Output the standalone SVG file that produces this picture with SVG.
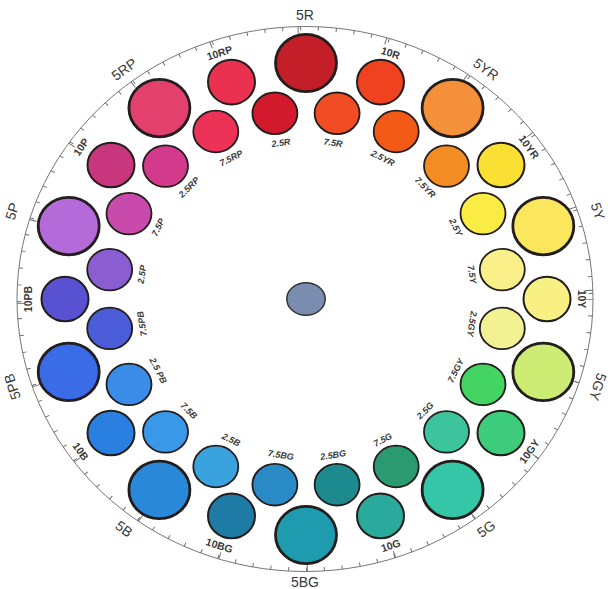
<svg xmlns="http://www.w3.org/2000/svg" width="615" height="589" viewBox="0 0 615 589">
<style>
text{fill:#3a3a3a;text-anchor:middle;dominant-baseline:central;font-family:"Liberation Sans",Arial,sans-serif}
.l5{font-size:14px}
.l10{font-size:10.5px;font-weight:bold}
.li{font-size:9px;font-weight:bold;font-style:italic}
.b{stroke:#231d1d;stroke-width:2.8}
.m{stroke:#231d1d;stroke-width:2}
.i{stroke:#231d1d;stroke-width:1.8}
</style>
<rect width="615" height="589" fill="#fff"/>
<g id="connectors">
<g transform="translate(305 299) scale(1.0569 1)" fill="none" stroke="#6a6a6a">
<circle r="272.5" stroke-width="0.9"/>
<circle r="270.5" stroke-width="4" stroke-dasharray="0.9 16.0332" stroke-dashoffset="0.45"/>
<circle r="269" stroke-width="7" stroke-dasharray="0.9 83.1376" stroke-dashoffset="0.45"/>
</g>
</g>
<g id="center"><ellipse cx="306" cy="299" rx="19.2" ry="16.3" fill="#7a8db0" stroke="#333" stroke-width="1.5"/></g>
<!-- 5s -->
<g id="n5R"><ellipse class="b" cx="306" cy="63" rx="30.5" ry="28.7" fill="#c41e28"/><text class="l5" transform="translate(305 15)">5R</text></g>
<g id="n5YR"><ellipse class="b" cx="452.6" cy="108.1" rx="30.5" ry="28.7" fill="#f5903a"/><text class="l5" transform="translate(486 69.2) rotate(36)">5YR</text></g>
<g id="n5Y"><ellipse class="b" cx="543.3" cy="226.1" rx="30.5" ry="28.7" fill="#fae75e"/><text class="l5" transform="translate(597.9 211.2) rotate(72)">5Y</text></g>
<g id="n5GY"><ellipse class="b" cx="543.3" cy="371.9" rx="30.5" ry="28.7" fill="#ccec74"/><text class="l5" transform="translate(597.9 386.8) rotate(108)">5GY</text></g>
<g id="n5G"><ellipse class="b" cx="452.6" cy="489.9" rx="30.5" ry="28.7" fill="#34c6a6"/><text class="l5" transform="translate(486 528.8) rotate(-36)">5G</text></g>
<g id="n5BG"><ellipse class="b" cx="306" cy="535" rx="30.5" ry="28.7" fill="#1e9bae"/><text class="l5" transform="translate(305 582)">5BG</text></g>
<g id="n5B"><ellipse class="b" cx="159.4" cy="489.9" rx="30.5" ry="28.7" fill="#2a88d8"/><text class="l5" transform="translate(124 528.8) rotate(36)">5B</text></g>
<g id="n5PB"><ellipse class="b" cx="68.7" cy="371.9" rx="30.5" ry="28.7" fill="#3a6ce8"/><text class="l5" transform="translate(12.1 386.8) rotate(-108)">5PB</text></g>
<g id="n5P"><ellipse class="b" cx="68.7" cy="226.1" rx="30.5" ry="28.7" fill="#b46ad8"/><text class="l5" transform="translate(12.1 211.2) rotate(-72)">5P</text></g>
<g id="n5RP"><ellipse class="b" cx="159.4" cy="108.1" rx="30.5" ry="28.7" fill="#e4406e"/><text class="l5" transform="translate(124 69.2) rotate(-36)">5RP</text></g>
<!-- 10s -->
<g id="n10R"><ellipse class="m" cx="380.5" cy="82.1" rx="23.5" ry="22.3" fill="#f0421e"/><text class="l10" transform="translate(390.6 52.7) rotate(18)">10R</text></g>
<g id="n10YR"><ellipse class="m" cx="501" cy="165" rx="23.5" ry="22.3" fill="#f9e032"/><text class="l10" transform="translate(529.1 146.8) rotate(54)">10YR</text></g>
<g id="n10Y"><ellipse class="m" cx="547" cy="299" rx="23.5" ry="22.3" fill="#f9f084"/><text class="l10" transform="translate(582 299) rotate(90)">10Y</text></g>
<g id="n10GY"><ellipse class="m" cx="501" cy="433" rx="23.5" ry="22.3" fill="#3ccc7c"/><text class="l10" transform="translate(529.1 451.2) rotate(-54)">10GY</text></g>
<g id="n10G"><ellipse class="m" cx="380.5" cy="515.9" rx="23.5" ry="22.3" fill="#2aaa9c"/><text class="l10" transform="translate(390.6 545.3) rotate(-18)">10G</text></g>
<g id="n10BG"><ellipse class="m" cx="231.5" cy="515.9" rx="23.5" ry="22.3" fill="#1e7ba6"/><text class="l10" transform="translate(219.4 545.3) rotate(18)">10BG</text></g>
<g id="n10B"><ellipse class="m" cx="111" cy="433" rx="23.5" ry="22.3" fill="#2a80e0"/><text class="l10" transform="translate(80.9 451.2) rotate(54)">10B</text></g>
<g id="n10PB"><ellipse class="m" cx="65" cy="299" rx="23.5" ry="22.3" fill="#5852d2"/><text class="l10" transform="translate(28 299) rotate(-90)">10PB</text></g>
<g id="n10P"><ellipse class="m" cx="111" cy="165" rx="23.5" ry="22.3" fill="#c8367e"/><text class="l10" transform="translate(80.9 146.8) rotate(-54)">10P</text></g>
<g id="n10RP"><ellipse class="m" cx="231.5" cy="82.1" rx="23.5" ry="22.3" fill="#ea3250"/><text class="l10" transform="translate(219.4 52.7) rotate(-18)">10RP</text></g>
<!-- inner -->
<g id="n7_5R"><ellipse class="i" cx="337.1" cy="113.3" rx="22.5" ry="20.8" fill="#f24c24"/><text class="li" transform="translate(333.1 142.9) rotate(9)">7.5R</text></g>
<g id="n2_5YR"><ellipse class="i" cx="396.2" cy="131.5" rx="22.5" ry="20.8" fill="#f25a16"/><text class="li" transform="translate(382.8 158.2) rotate(27)">2.5YR</text></g>
<g id="n7_5YR"><ellipse class="i" cx="446.5" cy="166.1" rx="22.5" ry="20.8" fill="#f48c24"/><text class="li" transform="translate(425.1 187.3) rotate(45)">7.5YR</text></g>
<g id="n2_5Y"><ellipse class="i" cx="483" cy="213.6" rx="22.5" ry="20.8" fill="#faec42"/><text class="li" transform="translate(455.8 227.3) rotate(63)">2.5Y</text></g>
<g id="n7_5Y"><ellipse class="i" cx="502.3" cy="269.6" rx="22.5" ry="20.8" fill="#f9f08a"/><text class="li" transform="translate(471.9 274.3) rotate(81)">7.5Y</text></g>
<g id="n2_5GY"><ellipse class="i" cx="502.3" cy="328.4" rx="22.5" ry="20.8" fill="#f2f292"/><text class="li" transform="translate(471.9 323.7) rotate(99)">2.5GY</text></g>
<g id="n7_5GY"><ellipse class="i" cx="483" cy="384.4" rx="22.5" ry="20.8" fill="#44d462"/><text class="li" transform="translate(455.8 370.7) rotate(-63)">7.5GY</text></g>
<g id="n2_5G"><ellipse class="i" cx="446.5" cy="431.9" rx="22.5" ry="20.8" fill="#3cc49c"/><text class="li" transform="translate(425.1 410.7) rotate(-45)">2.5G</text></g>
<g id="n7_5G"><ellipse class="i" cx="396.2" cy="466.5" rx="22.5" ry="20.8" fill="#2a9a70"/><text class="li" transform="translate(382.8 439.8) rotate(-27)">7.5G</text></g>
<g id="n2_5BG"><ellipse class="i" cx="337.1" cy="484.7" rx="22.5" ry="20.8" fill="#1c8a8e"/><text class="li" transform="translate(333.1 455.1) rotate(-9)">2.5BG</text></g>
<g id="n7_5BG"><ellipse class="i" cx="274.9" cy="484.7" rx="22.5" ry="20.8" fill="#2a8ac6"/><text class="li" transform="translate(280.9 455.1) rotate(9)">7.5BG</text></g>
<g id="n2_5B"><ellipse class="i" cx="215.8" cy="466.5" rx="22.5" ry="20.8" fill="#3aa2dc"/><text class="li" transform="translate(231.2 439.8) rotate(27)">2.5B</text></g>
<g id="n7_5B"><ellipse class="i" cx="165.5" cy="431.9" rx="22.5" ry="20.8" fill="#3a98e8"/><text class="li" transform="translate(188.9 410.7) rotate(45)">7.5B</text></g>
<g id="n2_5PB"><ellipse class="i" cx="129" cy="384.4" rx="22.5" ry="20.8" fill="#3a8ce8"/><text class="li" transform="translate(158.2 370.7) rotate(63)">2.5 PB</text></g>
<g id="n7_5PB"><ellipse class="i" cx="109.7" cy="328.4" rx="22.5" ry="20.8" fill="#4a5cd8"/><text class="li" transform="translate(142.1 323.7) rotate(-99)">7.5PB</text></g>
<g id="n2_5P"><ellipse class="i" cx="109.7" cy="269.6" rx="22.5" ry="20.8" fill="#8a5ed0"/><text class="li" transform="translate(142.1 274.3) rotate(-81)">2.5P</text></g>
<g id="n7_5P"><ellipse class="i" cx="129" cy="213.6" rx="22.5" ry="20.8" fill="#c84aaa"/><text class="li" transform="translate(158.2 227.3) rotate(-63)">7.5P</text></g>
<g id="n2_5RP"><ellipse class="i" cx="165.5" cy="166.1" rx="22.5" ry="20.8" fill="#d43a8c"/><text class="li" transform="translate(188.9 187.3) rotate(-45)">2.5RP</text></g>
<g id="n7_5RP"><ellipse class="i" cx="215.8" cy="131.5" rx="22.5" ry="20.8" fill="#ec3256"/><text class="li" transform="translate(231.2 158.2) rotate(-27)">7.5RP</text></g>
<g id="n2_5R"><ellipse class="i" cx="274.9" cy="113.3" rx="22.5" ry="20.8" fill="#d21a2c"/><text class="li" transform="translate(280.9 142.9) rotate(-9)">2.5R</text></g>
</svg>
